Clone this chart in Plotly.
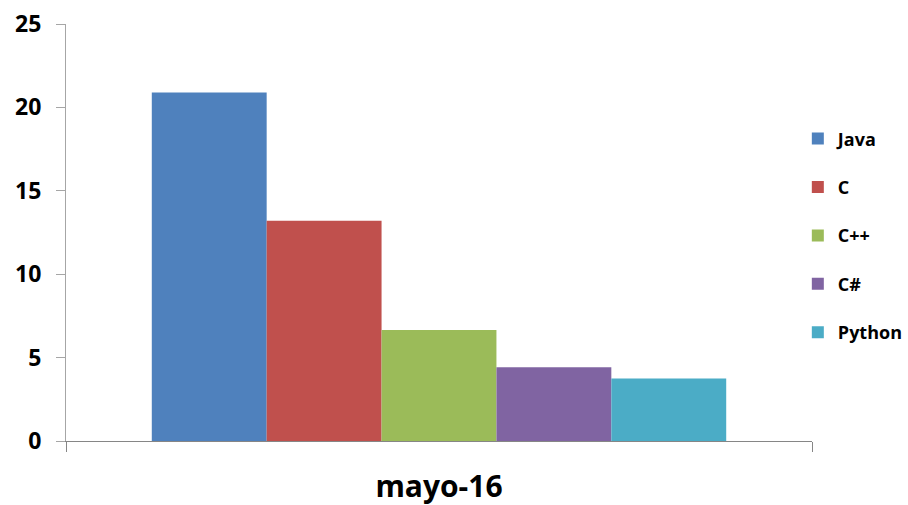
import plotly.graph_objects as go

categories = ["mayo-16"]
languages = ["Java", "C", "C++", "C#", "Python"]
values = [20.9, 13.2, 6.65, 4.42, 3.75]
colors = ["#4F81BD", "#C0504D", "#9BBB59", "#8064A2", "#4BACC6"]
y_ticks = [0, 5, 10, 15, 20, 25]

fig = go.Figure()
for name, v, c in zip(languages, values, colors):
    fig.add_trace(go.Bar(
        x=categories, y=[v], name=name, legendgroup=name,
        marker=dict(color=c, line=dict(width=0)),
    ))

font_family = "Open Sans, Liberation Sans, sans-serif"
fig.update_layout(
    width=908, height=505,
    margin=dict(l=66, r=96, t=24, b=64, autoexpand=False),
    paper_bgcolor="white", plot_bgcolor="white",
    barmode="group", bargap=0.23, bargroupgap=0,
    font=dict(family=font_family, color="black"),
    showlegend=True,
    legend=dict(
        x=0.981, xanchor="left", y=0.493, yanchor="middle",
        font=dict(size=18, family=font_family, color="black", weight="bold"),
        tracegroupgap=22, itemwidth=30, bgcolor="rgba(0,0,0,0)",
    ),
    xaxis=dict(
        showline=True, linecolor="#868686", linewidth=1,
        ticks="outside", tickson="boundaries", ticklen=10, tickcolor="#868686",
        tickfont=dict(size=30, weight="bold"),
        showgrid=False, ticklabelstandoff=19,
    ),
    yaxis=dict(
        range=[0, 25], tickvals=y_ticks,
        showline=True, linecolor="#A6A6A6", linewidth=1,
        ticks="outside", ticklen=9, tickcolor="#A6A6A6",
        tickfont=dict(size=23, weight="bold"),
        showgrid=False, zeroline=False,
        ticklabelstandoff=10,
    ),
)

fig.write_html("out.html")
